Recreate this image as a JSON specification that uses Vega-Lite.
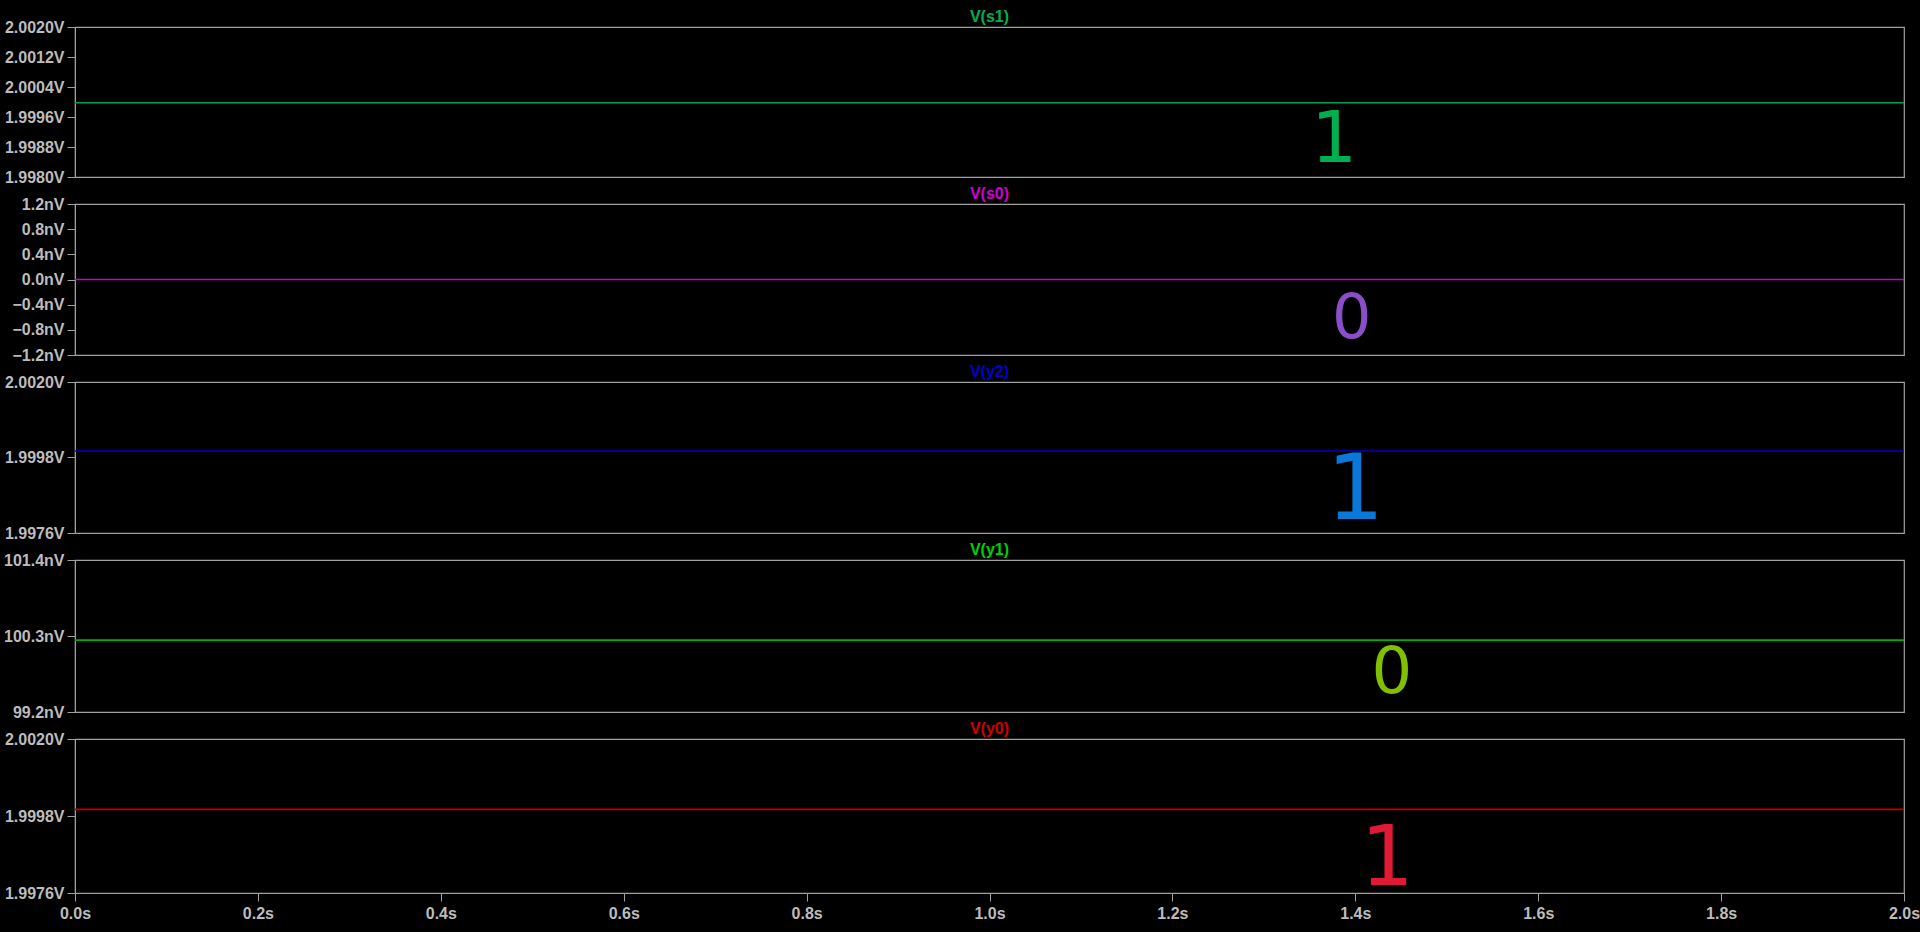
{
  "$schema": "https://vega.github.io/schema/vega-lite/v6.json",
  "autosize": {"type": "pad"},
  "padding": {"left": 2, "top": 8, "right": 0, "bottom": 10},
  "background": "#000000",
  "bounds": "flush",
  "spacing": 27,
  "datasets": {
    "traces": [
      {"signal": "s1", "t": 0, "v": 1.99998},
      {"signal": "s1", "t": 2, "v": 1.99998},
      {"signal": "s0", "t": 0, "v": 0},
      {"signal": "s0", "t": 2, "v": 0},
      {"signal": "y2", "t": 0, "v": 1.99999},
      {"signal": "y2", "t": 2, "v": 1.99999},
      {"signal": "y1", "t": 0, "v": 1.0024e-7},
      {"signal": "y1", "t": 2, "v": 1.0024e-7},
      {"signal": "y0", "t": 0, "v": 1.99999},
      {"signal": "y0", "t": 2, "v": 1.99999}
    ],
    "notes": [
      {"signal": "s1", "t": 1.377, "v": 1.9990, "label": "1"},
      {"signal": "s0", "t": 1.396, "v": -6.2e-10, "label": "0"},
      {"signal": "y2", "t": 1.40, "v": 1.99879, "label": "1"},
      {"signal": "y1", "t": 1.44, "v": 9.975e-8, "label": "0"},
      {"signal": "y0", "t": 1.435, "v": 1.99855, "label": "1"}
    ]
  },
  "config": {
    "view": {"stroke": "#a0a0a0", "strokeWidth": 1.2},
    "axis": {
      "grid": false,
      "domainColor": "#a0a0a0",
      "tickColor": "#a0a0a0",
      "tickSize": 8,
      "tickCount": 30,
      "labelColor": "#bcbcbc",
      "labelFont": "Liberation Sans",
      "labelFontWeight": "bold",
      "labelFontSize": 16,
      "labelPadding": 3,
      "labelOverlap": false,
      "labelBound": false,
      "labelFlush": false,
      "title": null
    },
    "title": {"font": "Liberation Sans", "fontSize": 16, "fontWeight": "bold", "anchor": "middle", "offset": -6, "frame": "group"},
    "text": {"font": "DejaVu Sans", "fontSize": 75, "align": "center", "baseline": "middle"}
  },
  "vconcat": [
    {
      "width": 1829, "height": 150,
      "title": {"text": "V(s1)", "color": "#00b050"},
      "layer": [
        {"data": {"name": "traces"}, "transform": [{"filter": "datum.signal === 's1'"}],
         "mark": {"type": "line", "color": "#00a050", "strokeWidth": 1.6},
         "encoding": {
           "x": {"field": "t", "type": "quantitative", "scale": {"domain": [0, 2], "nice": false}, "axis": null},
           "y": {"field": "v", "type": "quantitative", "scale": {"domain": [1.998, 2.002], "zero": false, "nice": false},
                 "axis": {"values": [1.998, 1.9988, 1.9996, 2.0004, 2.0012, 2.002], "tickCount": 30, "labelExpr": "format(datum.value, '.4f') + 'V'"}}
         }},
        {"data": {"name": "notes"}, "transform": [{"filter": "datum.signal === 's1'"}],
         "mark": {"type": "text", "color": "#00b050", "fontSize": 72},
         "encoding": {
           "x": {"field": "t", "type": "quantitative"},
           "y": {"field": "v", "type": "quantitative"},
           "text": {"field": "label"}
         }}
      ]
    },
    {
      "width": 1829, "height": 151,
      "title": {"text": "V(s0)", "color": "#d000d0"},
      "layer": [
        {"data": {"name": "traces"}, "transform": [{"filter": "datum.signal === 's0'"}],
         "mark": {"type": "line", "color": "#c800c8", "strokeWidth": 1.6},
         "encoding": {
           "x": {"field": "t", "type": "quantitative", "scale": {"domain": [0, 2], "nice": false}, "axis": null},
           "y": {"field": "v", "type": "quantitative", "scale": {"domain": [-1.2e-9, 1.2e-9], "zero": false, "nice": false},
                 "axis": {"values": [-1.2e-9, -8e-10, -4e-10, 0, 4e-10, 8e-10, 1.2e-9], "tickCount": 30, "labelExpr": "format(datum.value * 1e9, '.1f') + 'nV'"}}
         }},
        {"data": {"name": "notes"}, "transform": [{"filter": "datum.signal === 's0'"}],
         "mark": {"type": "text", "color": "#8a4fc8", "fontSize": 62},
         "encoding": {
           "x": {"field": "t", "type": "quantitative"},
           "y": {"field": "v", "type": "quantitative"},
           "text": {"field": "label"}
         }}
      ]
    },
    {
      "width": 1829, "height": 151,
      "title": {"text": "V(y2)", "color": "#0000d0"},
      "layer": [
        {"data": {"name": "traces"}, "transform": [{"filter": "datum.signal === 'y2'"}],
         "mark": {"type": "line", "color": "#0000c8", "strokeWidth": 1.6},
         "encoding": {
           "x": {"field": "t", "type": "quantitative", "scale": {"domain": [0, 2], "nice": false}, "axis": null},
           "y": {"field": "v", "type": "quantitative", "scale": {"domain": [1.9976, 2.002], "zero": false, "nice": false},
                 "axis": {"values": [1.9976, 1.9998, 2.002], "tickCount": 30, "labelExpr": "format(datum.value, '.4f') + 'V'"}}
         }},
        {"data": {"name": "notes"}, "transform": [{"filter": "datum.signal === 'y2'"}],
         "mark": {"type": "text", "color": "#0a78d8", "fontSize": 90},
         "encoding": {
           "x": {"field": "t", "type": "quantitative"},
           "y": {"field": "v", "type": "quantitative"},
           "text": {"field": "label"}
         }}
      ]
    },
    {
      "width": 1829, "height": 152,
      "title": {"text": "V(y1)", "color": "#00d000"},
      "layer": [
        {"data": {"name": "traces"}, "transform": [{"filter": "datum.signal === 'y1'"}],
         "mark": {"type": "line", "color": "#00b000", "strokeWidth": 1.6},
         "encoding": {
           "x": {"field": "t", "type": "quantitative", "scale": {"domain": [0, 2], "nice": false}, "axis": null},
           "y": {"field": "v", "type": "quantitative", "scale": {"domain": [9.92e-8, 1.014e-7], "zero": false, "nice": false},
                 "axis": {"values": [9.92e-8, 1.003e-7, 1.014e-7], "tickCount": 30, "labelExpr": "format(datum.value * 1e9, '.1f') + 'nV'"}}
         }},
        {"data": {"name": "notes"}, "transform": [{"filter": "datum.signal === 'y1'"}],
         "mark": {"type": "text", "color": "#80c000", "fontSize": 64},
         "encoding": {
           "x": {"field": "t", "type": "quantitative"},
           "y": {"field": "v", "type": "quantitative"},
           "text": {"field": "label"}
         }}
      ]
    },
    {
      "width": 1829, "height": 154,
      "title": {"text": "V(y0)", "color": "#d00000"},
      "layer": [
        {"data": {"name": "traces"}, "transform": [{"filter": "datum.signal === 'y0'"}],
         "mark": {"type": "line", "color": "#c00000", "strokeWidth": 1.6},
         "encoding": {
           "x": {"field": "t", "type": "quantitative", "scale": {"domain": [0, 2], "nice": false},
                 "axis": {"values": [0, 0.2, 0.4, 0.6, 0.8, 1.0, 1.2, 1.4, 1.6, 1.8, 2.0], "tickCount": 30, "labelExpr": "format(datum.value, '.1f') + 's'", "labelPadding": 4}},
           "y": {"field": "v", "type": "quantitative", "scale": {"domain": [1.9976, 2.002], "zero": false, "nice": false},
                 "axis": {"values": [1.9976, 1.9998, 2.002], "tickCount": 30, "labelExpr": "format(datum.value, '.4f') + 'V'"}}
         }},
        {"data": {"name": "notes"}, "transform": [{"filter": "datum.signal === 'y0'"}],
         "mark": {"type": "text", "color": "#e01a35", "fontSize": 84},
         "encoding": {
           "x": {"field": "t", "type": "quantitative"},
           "y": {"field": "v", "type": "quantitative"},
           "text": {"field": "label"}
         }}
      ]
    }
  ]
}
